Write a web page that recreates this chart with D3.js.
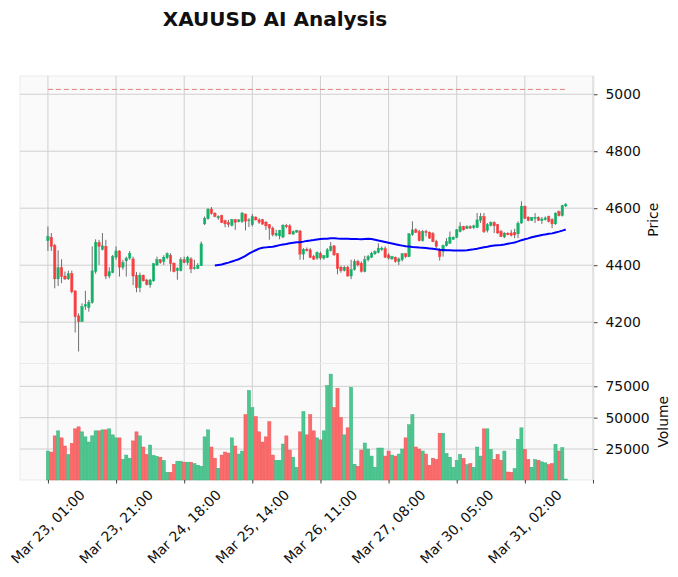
<!DOCTYPE html>
<html><head><meta charset="utf-8">
<script src="https://cdn.jsdelivr.net/npm/d3@7"></script>
<style>
body{margin:0;background:#fff}
svg{display:block}
text{font-family:"DejaVu Sans",sans-serif;fill:#101010}
</style>
</head><body><svg id="c" width="678" height="577"></svg>
<script>
const opens  = [4486,4498,4469,4352,4391,4362,4352,4370,4310,4222,4202,4256,4251,4269,4378,4480,4455,4466,4362,4374,4428,4450,4393,4415,4425,4422,4364,4321,4365,4348,4331,4345,4401,4419,4413,4426,4435,4407,4381,4381,4419,4410,4422,4388,4388,4398,4545,4563,4597,4583,4566,4574,4556,4550,4540,4560,4553,4553,4580,4556,4542,4569,4559,4560,4551,4542,4530,4505,4503,4499,4540,4538,4509,4516,4520,4439,4456,4454,4430,4425,4442,4425,4427,4452,4468,4440,4393,4381,4393,4362,4384,4413,4407,4378,4419,4428,4440,4445,4455,4458,4436,4422,4428,4413,4419,4440,4430,4507,4524,4518,4486,4518,4516,4511,4484,4454,4448,4468,4477,4491,4498,4518,4536,4529,4535,4532,4532,4557,4571,4522,4540,4550,4542,4518,4499,4512,4513,4515,4510,4548,4607,4569,4557,4564,4568,4557,4560,4571,4560,4545,4588,4574,4608];
const highs  = [4536,4513,4475,4452,4421,4378,4381,4381,4310,4231,4266,4310,4278,4466,4491,4489,4513,4489,4393,4436,4466,4452,4419,4430,4450,4430,4376,4374,4367,4352,4352,4407,4430,4421,4435,4445,4442,4410,4393,4428,4430,4433,4428,4419,4407,4483,4571,4600,4604,4585,4575,4577,4560,4559,4562,4562,4562,4587,4580,4565,4580,4571,4565,4562,4555,4544,4536,4524,4524,4544,4545,4544,4522,4524,4524,4460,4462,4460,4436,4448,4448,4436,4460,4481,4470,4442,4398,4398,4398,4419,4421,4419,4413,4433,4436,4447,4452,4477,4466,4466,4442,4433,4430,4427,4442,4442,4513,4554,4530,4524,4524,4524,4518,4516,4489,4460,4472,4495,4518,4501,4527,4551,4538,4540,4540,4542,4583,4583,4583,4548,4554,4554,4545,4524,4515,4516,4524,4528,4554,4624,4609,4571,4569,4583,4571,4569,4571,4574,4565,4585,4592,4612,4618];
const lows   = [4450,4450,4319,4327,4337,4348,4348,4301,4164,4097,4202,4243,4237,4265,4370,4401,4452,4351,4354,4372,4419,4360,4384,4360,4419,4330,4305,4305,4343,4329,4321,4342,4397,4405,4401,4421,4378,4375,4349,4378,4407,4401,4372,4384,4386,4398,4541,4560,4577,4568,4559,4548,4533,4533,4536,4524,4550,4548,4522,4534,4536,4557,4545,4542,4524,4489,4501,4501,4491,4495,4530,4507,4507,4514,4419,4419,4448,4425,4419,4419,4419,4419,4425,4448,4433,4368,4374,4378,4360,4351,4381,4395,4374,4375,4413,4425,4436,4442,4450,4425,4420,4419,4409,4401,4413,4425,4428,4503,4513,4483,4483,4501,4492,4481,4460,4416,4430,4466,4475,4489,4495,4515,4522,4527,4528,4527,4530,4548,4513,4515,4536,4513,4510,4499,4495,4505,4501,4495,4495,4545,4562,4554,4555,4548,4555,4545,4557,4550,4530,4542,4571,4571,4604];
const closes = [4500,4466,4352,4391,4360,4352,4370,4307,4219,4202,4254,4262,4270,4380,4480,4466,4468,4362,4377,4430,4450,4393,4409,4425,4442,4362,4321,4365,4345,4332,4348,4405,4419,4409,4428,4440,4405,4378,4389,4419,4409,4427,4387,4392,4400,4475,4565,4597,4581,4571,4571,4550,4545,4543,4560,4550,4559,4583,4554,4559,4571,4559,4551,4544,4538,4530,4507,4512,4522,4540,4535,4510,4518,4522,4439,4456,4451,4427,4421,4445,4425,4433,4454,4466,4436,4388,4381,4393,4362,4384,4413,4401,4378,4419,4430,4442,4448,4460,4460,4428,4425,4430,4413,4422,4440,4430,4510,4524,4515,4486,4518,4515,4495,4483,4466,4430,4469,4483,4498,4498,4524,4536,4524,4536,4530,4538,4559,4571,4518,4542,4550,4538,4513,4501,4513,4507,4505,4506,4547,4607,4565,4557,4568,4568,4557,4562,4566,4554,4545,4583,4574,4609,4613];
const volumes = [23400,22600,35500,39500,33900,27400,20700,29600,41100,42700,38700,34700,30600,35500,39500,39500,40300,40300,41100,36300,33900,33900,16900,20200,17700,31500,38700,35500,26600,20700,28200,19900,19100,18500,15900,6500,6500,12900,15300,15300,14500,14500,14500,13400,12100,11300,34700,40300,26600,17700,9700,20200,22600,21800,33900,27400,21000,23400,52400,71800,58100,50800,38700,30600,34700,46800,20200,16100,16100,29000,35500,24200,18500,10500,38700,54800,36300,52400,39500,33900,32300,39500,75500,84700,58100,73400,50000,36300,41900,74200,12900,11300,24200,29800,25000,19400,10500,25800,25800,19400,23400,20200,19400,21000,25000,33900,44400,52400,26600,25000,23400,21000,12100,17700,16700,37600,37600,21500,18500,10500,16100,20700,17500,12600,13400,10500,26600,19400,41100,41100,24700,16700,20700,16100,23400,6700,6500,9400,32800,41900,24700,16700,10500,16700,16100,14800,14000,12600,13400,28800,23400,26100,1100];
const tickIdx = [0,20,40,60,80,100,120,140,160];
const tickLabels = ["Mar 23, 01:00","Mar 23, 21:00","Mar 24, 18:00","Mar 25, 14:00","Mar 26, 11:00","Mar 27, 08:00","Mar 30, 05:00","Mar 31, 02:00",""];
const priceTicks = [4200,4400,4600,4800,5000];
const volumeTicks = [25000,50000,75000];
const targetLevel = 5017;
const mavPeriod = 50;
const titleText = "XAUUSD AI Analysis";

const svg = d3.select("#c");
const L = 20, R = 594, PT = 76, PB = 363.5, VB = 480;
const n = closes.length;
const x = d3.scaleLinear().domain([-8.2, 160.3]).range([L, R]);
const yP = d3.scaleLinear().domain([4055, 5064]).range([PB, PT]);
const vmin = 0.3*d3.min(volumes), vmax = 1.1*d3.max(volumes);
const yV = d3.scaleLinear().domain([vmin, vmax]).range([VB, PB]);
const step = x(1)-x(0);
const FS = 13.9;

// panels
[[PT,PB],[PB,VB]].forEach(([t,b])=>{
  svg.append("rect").attr("x",L).attr("y",t).attr("width",R-L).attr("height",b-t)
    .attr("fill","#fafafa").attr("stroke","#ebebeb").attr("stroke-width",1);
});
const grid = svg.append("g").attr("stroke","#d0d0d0").attr("stroke-width",1);
priceTicks.forEach(v=>grid.append("line").attr("x1",L).attr("x2",R).attr("y1",yP(v)).attr("y2",yP(v)));
volumeTicks.forEach(v=>grid.append("line").attr("x1",L).attr("x2",R).attr("y1",yV(v)).attr("y2",yV(v)));
tickIdx.forEach(i=>{
  grid.append("line").attr("x1",x(i)).attr("x2",x(i)).attr("y1",PT).attr("y2",PB-0.5);
  grid.append("line").attr("x1",x(i)).attr("x2",x(i)).attr("y1",PB+0.5).attr("y2",VB);
});

const idx = d3.range(n);
const up = i => closes[i] >= opens[i];
// wicks
svg.append("g").selectAll("line").data(idx).join("line")
  .attr("x1",i=>x(i)).attr("x2",i=>x(i)).attr("y1",i=>yP(highs[i])).attr("y2",i=>yP(lows[i]))
  .attr("stroke","#606060").attr("stroke-width",0.9);
// bodies
const bw = step*0.72;
svg.append("g").selectAll("rect").data(idx).join("rect")
  .attr("x",i=>x(i)-bw/2).attr("width",bw)
  .attr("y",i=>yP(Math.max(opens[i],closes[i])))
  .attr("height",i=>Math.max(0.6, Math.abs(yP(opens[i])-yP(closes[i]))))
  .attr("fill",i=>up(i)?"#00b060":"#fe3032").attr("fill-opacity",0.85)
  .attr("stroke",i=>up(i)?"#00b060":"#fe3032").attr("stroke-width",0.4);

// moving average
const mav = idx.map(i => i < mavPeriod-1 ? null : d3.mean(closes.slice(i-mavPeriod+1, i+1)));
svg.append("path").datum(idx.filter(i=>mav[i]!==null))
  .attr("d", d3.line().x(i=>x(i)).y(i=>yP(mav[i])))
  .attr("fill","none").attr("stroke","#0000ff").attr("stroke-width",2);

// target line
svg.append("line").attr("x1",x(0)).attr("x2",x(n-1)).attr("y1",yP(targetLevel)).attr("y2",yP(targetLevel))
  .attr("stroke","#e08080").attr("stroke-width",1).attr("stroke-dasharray","5,3");

// volume
const vup = i => i===0 || closes[i] >= closes[i-1];
const vw = step*0.92;
svg.append("g").selectAll("rect").data(idx).join("rect")
  .attr("x",i=>x(i)-vw/2).attr("width",vw)
  .attr("y",i=>yV(volumes[i])).attr("height",i=>VB-yV(volumes[i]))
  .attr("fill",i=>vup(i)?"#4dc790":"#fd6b6c")
  .attr("stroke",i=>vup(i)?"#3bb07c":"#e85555").attr("stroke-width",0.5);

// y axes (right)
const ya = svg.append("g").attr("transform",`translate(${R},0)`)
  .call(d3.axisRight(yP).tickValues(priceTicks).tickSize(3.5).tickPadding(8).tickFormat(d3.format("d")));
const yv = svg.append("g").attr("transform",`translate(${R},0)`)
  .call(d3.axisRight(yV).tickValues(volumeTicks).tickSize(3.5).tickPadding(8).tickFormat(d3.format("d")));
[ya,yv].forEach(g=>{
  g.select(".domain").remove();
  g.selectAll("line").attr("stroke","#101010").attr("stroke-width",0.8);
  g.selectAll("text").attr("font-size",FS).attr("fill","#101010").style("font-family","DejaVu Sans");
});
// x axis
const xa = svg.append("g").attr("transform",`translate(0,${VB})`)
  .call(d3.axisBottom(x).tickValues(tickIdx).tickSize(3.5).tickFormat(""));
xa.select(".domain").remove();
xa.selectAll("line").attr("stroke","#101010").attr("stroke-width",0.8);
tickIdx.forEach((i,k)=>{
  if(!tickLabels[k]) return;
  const t = svg.append("text").attr("font-size",FS).attr("text-anchor","middle")
    .attr("dominant-baseline","central").text(tickLabels[k]);
  const len = t.node().getComputedTextLength();
  const bh = (len + FS*1.05)*Math.SQRT1_2;
  t.attr("transform",`translate(${x(i)},${VB+7+bh/2}) rotate(-45)`);
});

// axis labels
svg.append("text").attr("font-size",FS).attr("text-anchor","middle")
  .attr("transform",`translate(${658},${(PT+PB)/2}) rotate(-90)`).text("Price");
svg.append("text").attr("font-size",FS).attr("text-anchor","middle")
  .attr("transform",`translate(${668},${(PB+VB)/2}) rotate(-90)`).text("Volume");

// title
svg.append("text").attr("x",275).attr("y",26).attr("text-anchor","middle")
  .attr("font-size",20).attr("font-weight","bold").text(titleText);
</script></body></html>
